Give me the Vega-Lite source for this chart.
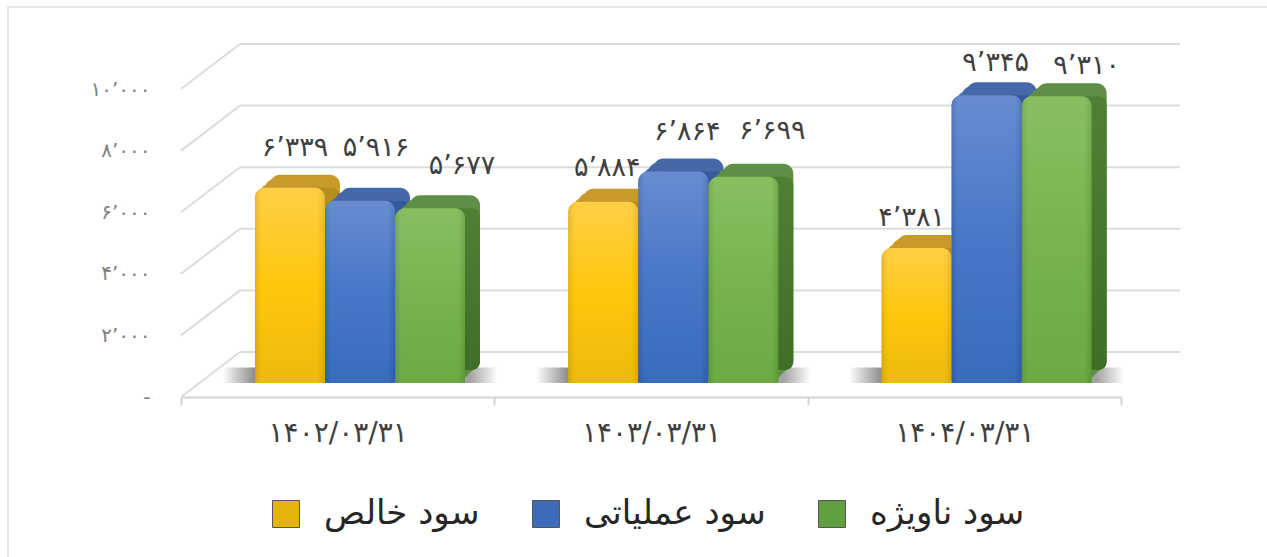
{"$schema":"https://vega.github.io/schema/vega-lite/v6.json","width":1260,"height":551,"autosize":"none","padding":{"left":8,"top":7,"right":0,"bottom":0},"background":"white","view":{"stroke":"#dedede","strokeWidth":1.5,"fill":"white"},
"config":{"font":"DejaVu Sans"},
"datasets":{"bars":[
{"date":"۱۴۰۲/۰۳/۳۱","series":"سود خالص","value":6339,"label":"۶’۳۳۹"},
{"date":"۱۴۰۲/۰۳/۳۱","series":"سود عملیاتی","value":5916,"label":"۵’۹۱۶"},
{"date":"۱۴۰۲/۰۳/۳۱","series":"سود ناویژه","value":5677,"label":"۵’۶۷۷"},
{"date":"۱۴۰۳/۰۳/۳۱","series":"سود خالص","value":5884,"label":"۵’۸۸۴"},
{"date":"۱۴۰۳/۰۳/۳۱","series":"سود عملیاتی","value":6864,"label":"۶’۸۶۴"},
{"date":"۱۴۰۳/۰۳/۳۱","series":"سود ناویژه","value":6699,"label":"۶’۶۹۹"},
{"date":"۱۴۰۴/۰۳/۳۱","series":"سود خالص","value":4381,"label":"۴’۳۸۱"},
{"date":"۱۴۰۴/۰۳/۳۱","series":"سود عملیاتی","value":9345,"label":"۹’۳۴۵"},
{"date":"۱۴۰۴/۰۳/۳۱","series":"سود ناویژه","value":9310,"label":"۹’۳۱۰"}],
"grid":[{"value":0},{"value":2000},{"value":4000},{"value":6000},{"value":8000},{"value":10000}]},
"encoding":{"y":{"field":"value","type":"quantitative","scale":{"domain":[0,10000],"range":[390,82],"nice":false,"zero":true},
"axis":{"title":null,"orient":"left","offset":-142,"grid":false,"domain":false,"ticks":false,"labelPadding":0,"values":[0,2000,4000,6000,8000,10000],"labelFontSize":20,"labelColor":"#7f7f7f",
"labelExpr":"{'0':'-','2000':'۲’۰۰۰','4000':'۴’۰۰۰','6000':'۶’۰۰۰','8000':'۸’۰۰۰','10000':'۱۰’۰۰۰'}[datum.value]"}}},
"layer":[
{"data":{"name":"grid"},"mark":{"type":"rule","color":"#dcdcdc","strokeWidth":2,"xOffset":59,"x2Offset":59,"yOffset":-45},
"encoding":{"x":{"datum":0,"type":"quantitative","scale":{"domain":[0,1],"range":[173,1113]},"axis":null},"x2":{"datum":1}}},
{"data":{"name":"grid"},"mark":{"type":"rule","color":"#dcdcdc","strokeWidth":2,"x2Offset":59,"y2Offset":-45},
"encoding":{"x":{"datum":0,"type":"quantitative","scale":{"domain":[0,1],"range":[173,1113]},"axis":null},"x2":{"datum":0},"y2":{"field":"value"}}},
{"data":{"name":"bars"},
"encoding":{"x":{"field":"date","type":"nominal","scale":{"range":[173,1113],"paddingInner":0,"paddingOuter":0},
"axis":{"title":null,"orient":"bottom","offset":-161,"labelAngle":0,"domainColor":"#d4d4d4","domainWidth":2,"tickColor":"#d4d4d4","tickWidth":2,"tickSize":8,"tickBand":"extent","labelFontSize":28,"labelColor":"#404040","labelPadding":28,"labelBaseline":"middle"}},"y2":{"datum":0}},
"resolve":{"scale":{"xOffset":"independent"}},
"layer":[
{"transform":[{"filter":"datum.series=='سود عملیاتی'"}],"mark":{"type":"bar","width":275,"opacity":0.9,"yOffset":-14,"y2Offset":-14,"color":{"x1":0,"x2":1,"y1":0,"y2":0,"gradient":"linear","stops":[{"offset":0,"color":"rgba(110,110,110,0)"},{"offset":0.12,"color":"rgba(110,110,110,0.9)"},{"offset":0.9,"color":"rgba(110,110,110,0.7)"},{"offset":1,"color":"rgba(110,110,110,0)"}]}},
"encoding":{"xOffset":{"field":"series","type":"nominal","scale":{"domain":["سود خالص","سود عملیاتی","سود ناویژه"],"range":[74,284],"paddingInner":0,"paddingOuter":0}},"y":{"datum":0,"type":"quantitative"},"y2":{"datum":500}}},

{"mark":{"type":"bar","yOffset":-14,"y2Offset":-14,"cornerRadiusTopLeft":10,"cornerRadiusTopRight":10},
"encoding":{"xOffset":{"field":"series","type":"nominal","scale":{"domain":["سود خالص","سود عملیاتی","سود ناویژه"],"range":[74,284],"paddingInner":0,"paddingOuter":0}},
"color":{"field":"series","type":"nominal","scale":{"domain":["سود خالص","سود عملیاتی","سود ناویژه"],"range":["#e6b20e","#3e6cb8","#5f9f3f"]},
"legend":{"title":null,"orient":"none","direction":"horizontal","legendX":261,"legendY":490,"symbolType":"square","symbolSize":729,"symbolStrokeColor":"#555","symbolStrokeWidth":1,"labelFontSize":34,"labelColor":"#262626","labelLimit":300,"labelOffset":21,"columnPadding":49,"columns":3}}}},

{"transform":[{"filter":"datum.series=='سود خالص'"}],"mark":{"type":"bar","color":"#c79a2a","cornerRadius":10,"yOffset":-18,"y2Offset":-18},"encoding":{"xOffset":{"field":"series","type":"nominal","scale":{"domain":["سود خالص","سود عملیاتی","سود ناویژه"],"range":[79,289],"paddingInner":0,"paddingOuter":0}}}},
{"transform":[{"filter":"datum.series=='سود خالص'"}],"mark":{"type":"bar","color":"#c79a2a","cornerRadius":10,"yOffset":-23,"y2Offset":-23},"encoding":{"xOffset":{"field":"series","type":"nominal","scale":{"domain":["سود خالص","سود عملیاتی","سود ناویژه"],"range":[84,294],"paddingInner":0,"paddingOuter":0}}}},
{"transform":[{"filter":"datum.series=='سود خالص'"}],"mark":{"type":"bar","color":"#c79a2a","cornerRadius":10,"yOffset":-27,"y2Offset":-27},"encoding":{"xOffset":{"field":"series","type":"nominal","scale":{"domain":["سود خالص","سود عملیاتی","سود ناویژه"],"range":[89,299],"paddingInner":0,"paddingOuter":0}}}},
{"transform":[{"filter":"datum.series=='سود خالص'"}],"mark":{"type":"bar","color":"#b58c1e","cornerRadius":8,"yOffset":-14,"y2Offset":-27},"encoding":{"xOffset":{"field":"series","type":"nominal","scale":{"domain":["سود خالص","سود عملیاتی","سود ناویژه"],"range":[89,299],"paddingInner":0,"paddingOuter":0}}}},
{"transform":[{"filter":"datum.series=='سود خالص'"}],"mark":{"type":"bar","cornerRadiusTopLeft":10,"cornerRadiusTopRight":10,"cornerRadiusBottomLeft":3,"cornerRadiusBottomRight":3,"yOffset":-14,"y2Offset":-14,"color":{"x1":0,"x2":0,"y1":0,"y2":1,"gradient":"linear","stops":[{"offset":0,"color":"#ffcc3c"},{"offset":0.5,"color":"#ffc400"},{"offset":1,"color":"#ecb600"}]}},"encoding":{"xOffset":{"field":"series","type":"nominal","scale":{"domain":["سود خالص","سود عملیاتی","سود ناویژه"],"range":[74,284],"paddingInner":0,"paddingOuter":0}}}},

{"transform":[{"filter":"datum.series=='سود عملیاتی'"}],"mark":{"type":"bar","color":"#4468a8","cornerRadius":10,"yOffset":-18,"y2Offset":-18},"encoding":{"xOffset":{"field":"series","type":"nominal","scale":{"domain":["سود خالص","سود عملیاتی","سود ناویژه"],"range":[79,289],"paddingInner":0,"paddingOuter":0}}}},
{"transform":[{"filter":"datum.series=='سود عملیاتی'"}],"mark":{"type":"bar","color":"#4468a8","cornerRadius":10,"yOffset":-23,"y2Offset":-23},"encoding":{"xOffset":{"field":"series","type":"nominal","scale":{"domain":["سود خالص","سود عملیاتی","سود ناویژه"],"range":[84,294],"paddingInner":0,"paddingOuter":0}}}},
{"transform":[{"filter":"datum.series=='سود عملیاتی'"}],"mark":{"type":"bar","color":"#4468a8","cornerRadius":10,"yOffset":-27,"y2Offset":-27},"encoding":{"xOffset":{"field":"series","type":"nominal","scale":{"domain":["سود خالص","سود عملیاتی","سود ناویژه"],"range":[89,299],"paddingInner":0,"paddingOuter":0}}}},
{"transform":[{"filter":"datum.series=='سود عملیاتی'"}],"mark":{"type":"bar","color":"#345a9e","cornerRadius":8,"yOffset":-14,"y2Offset":-27},"encoding":{"xOffset":{"field":"series","type":"nominal","scale":{"domain":["سود خالص","سود عملیاتی","سود ناویژه"],"range":[89,299],"paddingInner":0,"paddingOuter":0}}}},
{"transform":[{"filter":"datum.series=='سود عملیاتی'"}],"mark":{"type":"bar","cornerRadiusTopLeft":10,"cornerRadiusTopRight":10,"cornerRadiusBottomLeft":3,"cornerRadiusBottomRight":3,"yOffset":-14,"y2Offset":-14,"color":{"x1":0,"x2":0,"y1":0,"y2":1,"gradient":"linear","stops":[{"offset":0,"color":"#5f86cf"},{"offset":0.5,"color":"#3f70c4"},{"offset":1,"color":"#2f63ba"}]}},"encoding":{"xOffset":{"field":"series","type":"nominal","scale":{"domain":["سود خالص","سود عملیاتی","سود ناویژه"],"range":[74,284],"paddingInner":0,"paddingOuter":0}}}},

{"transform":[{"filter":"datum.series=='سود ناویژه'"}],"mark":{"type":"bar","color":"#5f8f47","cornerRadius":10,"yOffset":-18,"y2Offset":-18},"encoding":{"xOffset":{"field":"series","type":"nominal","scale":{"domain":["سود خالص","سود عملیاتی","سود ناویژه"],"range":[79,289],"paddingInner":0,"paddingOuter":0}}}},
{"transform":[{"filter":"datum.series=='سود ناویژه'"}],"mark":{"type":"bar","color":"#5f8f47","cornerRadius":10,"yOffset":-23,"y2Offset":-23},"encoding":{"xOffset":{"field":"series","type":"nominal","scale":{"domain":["سود خالص","سود عملیاتی","سود ناویژه"],"range":[84,294],"paddingInner":0,"paddingOuter":0}}}},
{"transform":[{"filter":"datum.series=='سود ناویژه'"}],"mark":{"type":"bar","color":"#5f8f47","cornerRadius":10,"yOffset":-27,"y2Offset":-27},"encoding":{"xOffset":{"field":"series","type":"nominal","scale":{"domain":["سود خالص","سود عملیاتی","سود ناویژه"],"range":[89,299],"paddingInner":0,"paddingOuter":0}}}},
{"transform":[{"filter":"datum.series=='سود ناویژه'"}],"mark":{"type":"bar","cornerRadius":8,"yOffset":-14,"y2Offset":-27,"color":{"x1":0,"x2":0,"y1":0,"y2":1,"gradient":"linear","stops":[{"offset":0,"color":"#4f8036"},{"offset":1,"color":"#3f6f26"}]}},"encoding":{"xOffset":{"field":"series","type":"nominal","scale":{"domain":["سود خالص","سود عملیاتی","سود ناویژه"],"range":[89,299],"paddingInner":0,"paddingOuter":0}}}},
{"transform":[{"filter":"datum.series=='سود ناویژه'"}],"mark":{"type":"bar","cornerRadiusTopLeft":10,"cornerRadiusTopRight":10,"cornerRadiusBottomLeft":3,"cornerRadiusBottomRight":3,"yOffset":-14,"y2Offset":-14,"color":{"x1":0,"x2":0,"y1":0,"y2":1,"gradient":"linear","stops":[{"offset":0,"color":"#82bc58"},{"offset":0.5,"color":"#70b044"},{"offset":1,"color":"#64a63a"}]}},"encoding":{"xOffset":{"field":"series","type":"nominal","scale":{"domain":["سود خالص","سود عملیاتی","سود ناویژه"],"range":[74,284],"paddingInner":0,"paddingOuter":0}}}},

{"mark":{"type":"bar","cornerRadiusTopLeft":10,"cornerRadiusTopRight":10,"cornerRadiusBottomLeft":3,"cornerRadiusBottomRight":3,"yOffset":-14,"y2Offset":-14,"color":{"x1":0,"x2":1,"y1":0,"y2":0,"gradient":"linear","stops":[{"offset":0,"color":"rgba(0,0,0,0.1)"},{"offset":0.1,"color":"rgba(255,255,255,0.05)"},{"offset":0.88,"color":"rgba(255,255,255,0.05)"},{"offset":1,"color":"rgba(0,0,0,0.1)"}]}},"encoding":{"xOffset":{"field":"series","type":"nominal","scale":{"domain":["سود خالص","سود عملیاتی","سود ناویژه"],"range":[74,284],"paddingInner":0,"paddingOuter":0}}}},

{"transform":[{"filter":"datum.label=='۶’۳۳۹'"}],"mark":{"type":"text","fontSize":27,"color":"#404040","dx":40,"dy":-54},"encoding":{"xOffset":{"field":"series","type":"nominal","scale":{"domain":["سود خالص","سود عملیاتی","سود ناویژه"],"range":[74,284],"paddingInner":0,"paddingOuter":0}},"text":{"field":"label"}}},
{"transform":[{"filter":"datum.label=='۵’۹۱۶'"}],"mark":{"type":"text","fontSize":27,"color":"#404040","dx":16,"dy":-67},"encoding":{"xOffset":{"field":"series","type":"nominal","scale":{"domain":["سود خالص","سود عملیاتی","سود ناویژه"],"range":[74,284],"paddingInner":0,"paddingOuter":0}},"text":{"field":"label"}}},
{"transform":[{"filter":"datum.label=='۵’۶۷۷'"}],"mark":{"type":"text","fontSize":27,"color":"#404040","dx":-3,"dy":-56},"encoding":{"xOffset":{"field":"series","type":"nominal","scale":{"domain":["سود خالص","سود عملیاتی","سود ناویژه"],"range":[74,284],"paddingInner":0,"paddingOuter":0}},"text":{"field":"label"}}},
{"transform":[{"filter":"datum.label=='۵’۸۸۴'"}],"mark":{"type":"text","fontSize":27,"color":"#404040","dx":39,"dy":-48},"encoding":{"xOffset":{"field":"series","type":"nominal","scale":{"domain":["سود خالص","سود عملیاتی","سود ناویژه"],"range":[74,284],"paddingInner":0,"paddingOuter":0}},"text":{"field":"label"}}},
{"transform":[{"filter":"datum.label=='۶’۸۶۴'"}],"mark":{"type":"text","fontSize":27,"color":"#404040","dx":14,"dy":-54},"encoding":{"xOffset":{"field":"series","type":"nominal","scale":{"domain":["سود خالص","سود عملیاتی","سود ناویژه"],"range":[74,284],"paddingInner":0,"paddingOuter":0}},"text":{"field":"label"}}},
{"transform":[{"filter":"datum.label=='۶’۶۹۹'"}],"mark":{"type":"text","fontSize":27,"color":"#404040","dx":-6,"dy":-60},"encoding":{"xOffset":{"field":"series","type":"nominal","scale":{"domain":["سود خالص","سود عملیاتی","سود ناویژه"],"range":[74,284],"paddingInner":0,"paddingOuter":0}},"text":{"field":"label"}}},
{"transform":[{"filter":"datum.label=='۴’۳۸۱'"}],"mark":{"type":"text","fontSize":27,"color":"#404040","dx":30,"dy":-44},"encoding":{"xOffset":{"field":"series","type":"nominal","scale":{"domain":["سود خالص","سود عملیاتی","سود ناویژه"],"range":[74,284],"paddingInner":0,"paddingOuter":0}},"text":{"field":"label"}}},
{"transform":[{"filter":"datum.label=='۹’۳۴۵'"}],"mark":{"type":"text","fontSize":27,"color":"#404040","dx":9,"dy":-46},"encoding":{"xOffset":{"field":"series","type":"nominal","scale":{"domain":["سود خالص","سود عملیاتی","سود ناویژه"],"range":[74,284],"paddingInner":0,"paddingOuter":0}},"text":{"field":"label"}}},
{"transform":[{"filter":"datum.label=='۹’۳۱۰'"}],"mark":{"type":"text","fontSize":27,"color":"#404040","dx":-5,"dy":-44},"encoding":{"xOffset":{"field":"series","type":"nominal","scale":{"domain":["سود خالص","سود عملیاتی","سود ناویژه"],"range":[74,284],"paddingInner":0,"paddingOuter":0}},"text":{"field":"label"}}}
]}
],
"resolve":{"scale":{"x":"independent"}}}
